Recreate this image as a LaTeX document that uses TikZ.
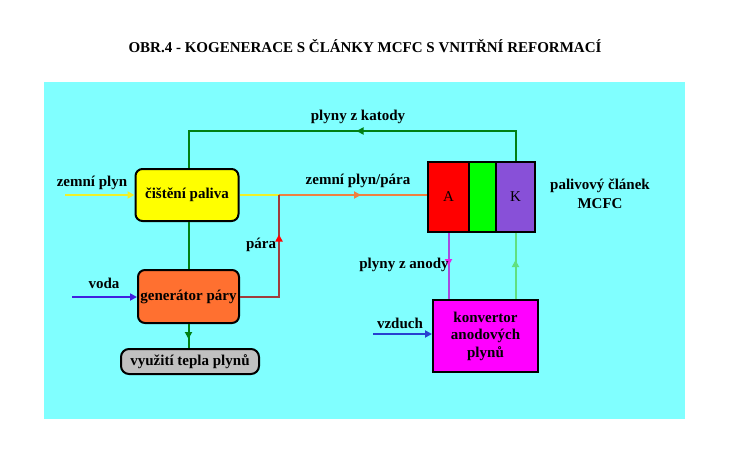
\documentclass[tikz,border=0pt]{standalone}
\usepackage{fontspec}
\setmainfont{Liberation Serif}
\usetikzlibrary{arrows.meta,decorations.markings}
\definecolor{bgc}{RGB}{128,255,255}
\definecolor{dgreen}{RGB}{0,128,20}
\definecolor{orng}{RGB}{240,128,64}
\definecolor{brwn}{RGB}{160,60,60}
\definecolor{genc}{RGB}{255,112,48}
\definecolor{greyc}{RGB}{192,192,192}
\definecolor{bluec}{RGB}{64,32,224}
\definecolor{blue2}{RGB}{40,64,208}
\definecolor{purp}{RGB}{168,72,224}
\definecolor{magc}{RGB}{232,32,232}
\definecolor{konvc}{RGB}{255,0,255}
\definecolor{redc}{RGB}{255,0,0}
\definecolor{greenc}{RGB}{0,255,0}
\definecolor{lgreen}{RGB}{96,224,128}
\definecolor{kcol}{RGB}{136,80,216}
\definecolor{yel}{RGB}{255,255,0}
\definecolor{yline}{RGB}{240,240,40}
\begin{document}
\begin{tikzpicture}[x=1pt,y=-1pt,
  txt/.style={font=\fontsize{15}{17.5}\selectfont\bfseries},
  box/.style={draw=black,line width=2pt,txt,inner sep=0pt,align=center},
  rbox/.style={box,rounded corners=7pt},
  flow/.style={line width=2pt},
  tip/.style={-{Triangle[length=7pt,width=7pt]}},
  midarr/.style 2 args={postaction={decorate},decoration={markings,mark=at position #1 with {\arrow{Triangle[length=7pt,width=7pt,color=#2]}}}},
  lbl/.style={txt,inner sep=0pt}]
\useasboundingbox (0,0) rectangle (731,452);
\fill[white] (0,0) rectangle (731,452);
\fill[bgc] (44,82) rectangle (685,419);
\node[txt] (title) at (365,46) {OBR.4 - KOGENERACE S ČLÁNKY MCFC S VNITŘNÍ REFORMACÍ};

% boxes
\node[rbox,fill=yel,minimum width=103pt,minimum height=52pt] (cist) at (187,195) {čištění paliva};
\node[rbox,fill=genc,minimum width=101pt,minimum height=53pt] (gen) at (188.5,296.5) {generátor páry};
\node[rbox,fill=greyc,minimum width=138pt,minimum height=25pt,rounded corners=8pt] (vyu) at (190,361.5) {využití tepla plynů};
\node[box,fill=redc,minimum width=41pt,minimum height=70pt,font=\fontsize{15}{17}\selectfont] (A) at (448.5,197) {A};
\node[box,fill=greenc,minimum width=27pt,minimum height=70pt] (E) at (482.5,197) {};
\node[box,fill=kcol,minimum width=39pt,minimum height=70pt,font=\fontsize{15}{17}\selectfont] (K) at (515.5,197) {K};
\node[box,fill=konvc,minimum width=105pt,minimum height=72pt] (konv) at (485.5,336) {konvertor\\anodových\\plynů};

% coordinates
\coordinate (zp) at (65,195);
\coordinate (j) at (279,195);
\coordinate (top) at (189,131);
\coordinate (vd) at (72,297);
\coordinate (vz) at (373,334);

% connectors
\draw[flow,dgreen,midarr={189pt}{dgreen}] (K.north) |- (top) -- (top |- cist.north);
\draw[flow,yline,tip] (zp) -- (cist.west);
\draw[flow,yline] (cist.east) -- (j);
\draw[flow,orng,midarr={82pt}{orng}] (j) -- (j -| A.west);
\draw[flow,brwn,midarr={101pt}{red}] (gen.east) -| (j);
\draw[flow,dgreen] (top |- cist.south) -- (top |- gen.north);
\draw[flow,bluec,tip] (vd) -- (vd -| gen.west);
\draw[flow,dgreen,midarr={15pt}{dgreen}] (gen.south) -- (gen.south |- vyu.north);
\draw[flow,purp,midarr={33pt}{magc}] (A.south) -- (A.south |- konv.north);
\draw[flow,lgreen,midarr={39pt}{lgreen}] (K.south |- konv.north) -- (K.south);
\draw[flow,blue2,tip] (vz) -- (vz -| konv.west);

% labels
\node[lbl] (l1) at (358,117) {plyny z katody};
\node[lbl] (l2) at (92,183) {zemní plyn};
\node[lbl] (l3) at (358,181) {zemní plyn/pára};
\node[lbl] (l4) at (261,245) {pára};
\node[lbl] (l5) at (104,283) {voda};
\node[lbl] (l6) at (404,265) {plyny z anody};
\node[lbl] (l7) at (400,323) {vzduch};
\node[lbl,align=center] (l8) at (600,194) {palivový článek\\[2pt]MCFC};
\end{tikzpicture}
\end{document}
